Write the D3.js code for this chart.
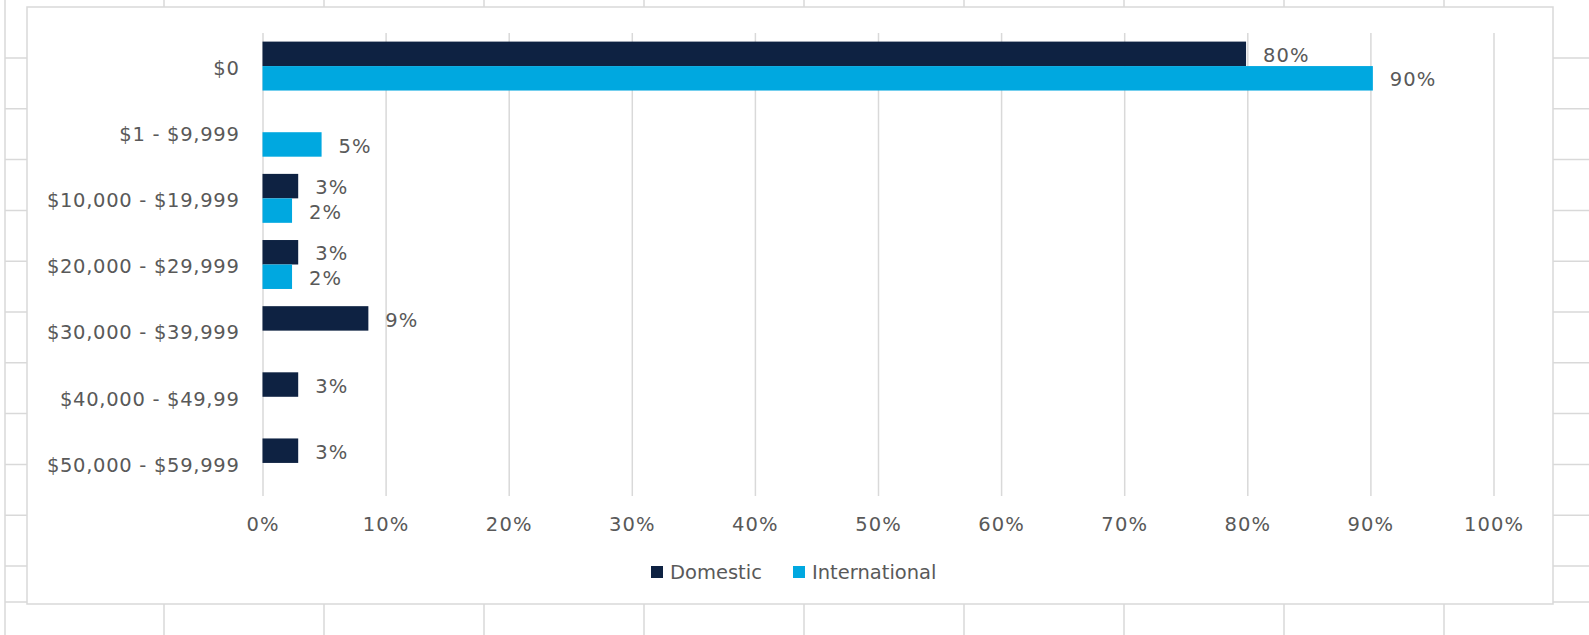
<!DOCTYPE html>
<html><head><meta charset="utf-8">
<script src="https://cdn.jsdelivr.net/npm/d3@7"></script>
<style>
html,body{margin:0;padding:0;background:#fff;}
svg{display:block;}
text{font-family:"DejaVu Sans",sans-serif;fill:#595959;}
</style></head>
<body>
<svg id="c" width="1589" height="635"></svg>
<script>
const categories = ["$0","$1 - $9,999","$10,000 - $19,999","$20,000 - $29,999","$30,000 - $39,999","$40,000 - $49,99","$50,000 - $59,999"];
const seriesNames = ["Domestic","International"];
const domestic = [79.9, null, 2.9, 2.9, 8.6, 2.9, 2.9];
const international = [90.2, 4.8, 2.4, 2.4, null, null, null];
const xTicks = [0,10,20,30,40,50,60,70,80,90,100];
const colors = ["#0e2242","#00a8e0"];

const svg = d3.select("#c");
const W = 1589, H = 635;
const grid = "#d9d9d9";
const FS = 19.5;

// spreadsheet background grid
const bg = svg.append("g");
const colLines = d3.range(10).map(i => i === 0 ? 5 : 164 + (i-1)*160);
const rowLines = d3.range(11).map(i => 58 + i*50.8).concat([602]);
bg.selectAll("line.v").data(colLines).join("line")
  .attr("x1", d=>d).attr("x2", d=>d).attr("y1",0).attr("y2",H)
  .attr("stroke", grid).attr("stroke-width",1.5);
bg.selectAll("line.h").data(rowLines).join("line")
  .attr("x1", 5).attr("x2", W).attr("y1",d=>d).attr("y2",d=>d)
  .attr("stroke", grid).attr("stroke-width",1.5);

// chart area
svg.append("rect").attr("x",27).attr("y",7).attr("width",1526).attr("height",597)
  .attr("fill","#fff").attr("stroke",grid).attr("stroke-width",1.5);

const x = d3.scaleLinear().domain([0,100]).range([262.5,1493.5]);
const y = d3.scaleBand().domain(categories).range([33,496]).padding(0);
const bw = y.bandwidth();
const y1 = d3.scaleBand().domain(seriesNames).range([bw*0.13, bw*0.87]).padding(0);

// gridlines
const gAxis = svg.append("g").attr("transform","translate(0,496)")
  .call(d3.axisBottom(x).tickValues(xTicks).tickSize(-(496-33)).tickFormat(""));
gAxis.select(".domain").remove();
gAxis.selectAll(".tick line").attr("stroke",grid).attr("stroke-width",1.5);

// x tick labels
const xl = svg.append("g").attr("transform","translate(0,496)")
  .call(d3.axisBottom(x).tickValues(xTicks).tickSize(0).tickPadding(21).tickFormat(d=>d+"%"));
xl.select(".domain").remove();
xl.selectAll("text").attr("font-size",FS).attr("letter-spacing","1.1px")
  .style("font-family","DejaVu Sans").attr("fill","#595959");

// category labels
const yl = svg.append("g").attr("transform","translate(262.5,0)")
  .call(d3.axisLeft(y).tickSize(0).tickPadding(23));
yl.select(".domain").remove();
yl.selectAll("text").attr("font-size",FS).attr("letter-spacing","0.7px")
  .style("font-family","DejaVu Sans").attr("fill","#595959").attr("dy","0.45em");

// bars
const series = [domestic, international];
series.forEach((vals, si) => {
  const data = categories.map((c,i)=>({c, v: vals[i]})).filter(d=>d.v!=null);
  const g = svg.append("g");
  g.selectAll("rect").data(data).join("rect")
    .attr("x", x(0)).attr("y", d => y(d.c) + y1(seriesNames[si]))
    .attr("width", d => x(d.v) - x(0)).attr("height", y1.bandwidth())
    .attr("fill", colors[si]);
  g.selectAll("text").data(data).join("text")
    .attr("x", d => x(d.v) + 17)
    .attr("y", d => y(d.c) + y1(seriesNames[si]) + y1.bandwidth()/2)
    .attr("dy","0.42em")
    .attr("font-size",FS).attr("letter-spacing","1.1px")
    .text(d => Math.round(d.v) + "%");
});

// legend
const leg = svg.append("g");
const legX = [651, 793];
seriesNames.forEach((n,i)=>{
  leg.append("rect").attr("x",legX[i]).attr("y",566).attr("width",12).attr("height",12).attr("fill",colors[i]);
  leg.append("text").attr("x",legX[i]+19).attr("y",572).attr("dy","0.37em")
    .attr("font-size",FS).text(n);
});
</script>
</body></html>
